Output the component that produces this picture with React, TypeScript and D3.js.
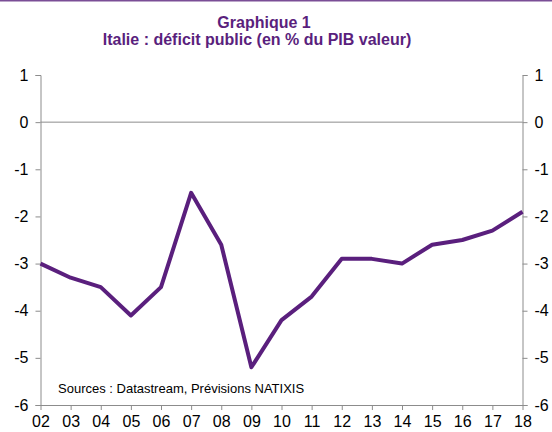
import React, { useEffect, useRef } from 'react';
import * as d3 from 'd3';

const years = ['02', '03', '04', '05', '06', '07', '08', '09', '10', '11', '12', '13', '14', '15', '16', '17', '18'];
const deficit = [-3.0, -3.3, -3.5, -4.1, -3.5, -1.5, -2.6, -5.2, -4.2, -3.7, -2.9, -2.9, -3.0, -2.6, -2.5, -2.3, -1.9];
const yTicks = [1, 0, -1, -2, -3, -4, -5, -6];

const App = () => {
    const svgRef = useRef<SVGSVGElement>(null);

    useEffect(() => {
        const svg = d3.select(svgRef.current);
        svg.selectAll('*').remove();
        const width = 552;
        const height = 432;
        const left = 40.5, right = 522.5, top = 75, bottom = 405;
        const purple = '#5a1f7d';
        const grey = '#8c8c8c';
        const font = 'Arial, "Liberation Sans", sans-serif';

        svg.attr('width', width).attr('height', height);

        // band at the very top
        svg.append('rect').attr('x', 0).attr('y', 0).attr('width', width).attr('height', 1.5).attr('fill', '#7a4e96');

        // titles
        svg.append('text').attr('x', 264).attr('y', 28).attr('text-anchor', 'middle')
            .attr('font-family', font).attr('font-size', 16).attr('font-weight', 'bold').attr('fill', purple)
            .text('Graphique 1');
        svg.append('text').attr('x', 257).attr('y', 45).attr('text-anchor', 'middle')
            .attr('font-family', font).attr('font-size', 16).attr('font-weight', 'bold').attr('fill', purple)
            .text('Italie : déficit public (en % du PIB valeur)');

        const x = d3.scalePoint().domain(years).range([left, right]);
        const y = d3.scaleLinear().domain([-6, 1]).range([bottom, top]);

        // zero line
        svg.append('line').attr('x1', left).attr('x2', right).attr('y1', y(0)).attr('y2', y(0))
            .attr('stroke', grey).attr('stroke-width', 1);

        const styleAxis = (g: any) => {
            g.select('.domain').attr('stroke', grey);
            g.selectAll('.tick line').attr('stroke', grey);
            g.selectAll('.tick text').attr('fill', '#000').attr('font-family', font).attr('font-size', 16);
        };
        const fmt = (d: any) => String(d);

        svg.append('g').attr('transform', `translate(${left},0)`)
            .call(d3.axisLeft(y).tickValues(yTicks).tickFormat(fmt).tickSize(5).tickSizeOuter(5).tickPadding(7))
            .call(styleAxis);

        svg.append('g').attr('transform', `translate(${right},0)`)
            .call(d3.axisRight(y).tickValues(yTicks).tickFormat(fmt).tickSize(5).tickSizeOuter(5).tickPadding(7))
            .call(styleAxis);

        svg.append('g').attr('transform', `translate(0,${bottom})`)
            .call(d3.axisBottom(x).tickSize(5).tickSizeOuter(0).tickPadding(6))
            .call(styleAxis);

        const line = d3.line<number>().x((d, i) => x(years[i]) as number).y(d => y(d));
        svg.append('path').datum(deficit).attr('d', line).attr('fill', 'none')
            .attr('stroke', purple).attr('stroke-width', 4).attr('stroke-linejoin', 'round');

        svg.append('text').attr('x', 58).attr('y', 393).attr('font-family', font).attr('font-size', 13).attr('fill', '#000')
            .text('Sources : Datastream, Prévisions NATIXIS');
    }, []);

    return (
        <svg ref={svgRef} style={{ position: 'absolute', left: 0, top: 0, background: '#fff' }}></svg>
    );
};

export default App;
